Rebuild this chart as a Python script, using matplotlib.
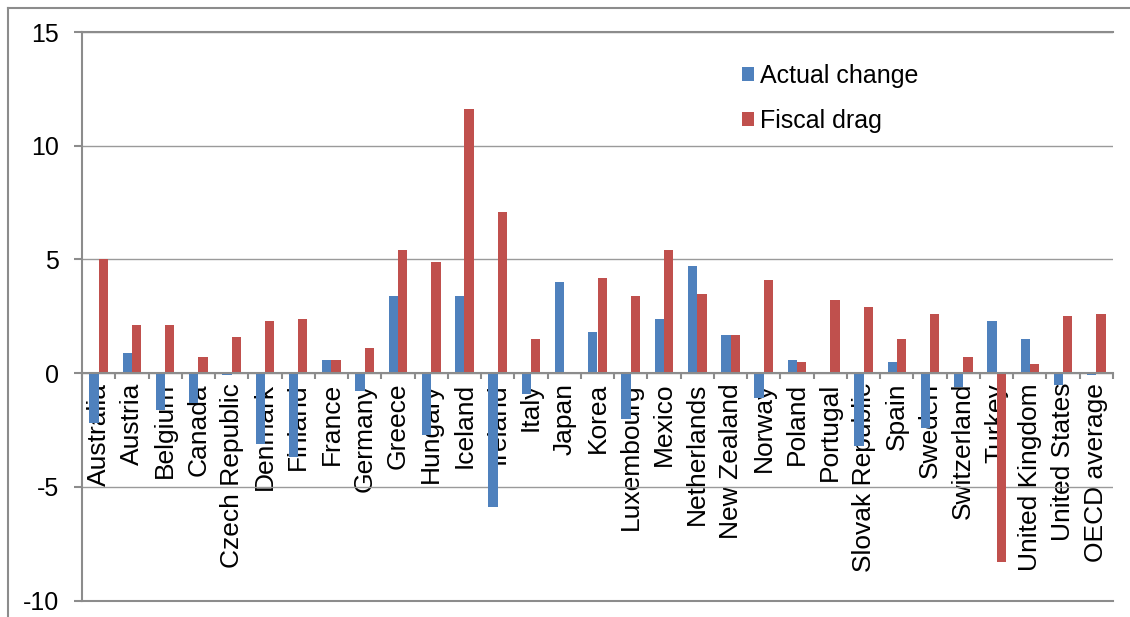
import numpy as np
import matplotlib.pyplot as plt
from matplotlib.patches import Patch
from matplotlib.lines import Line2D

countries = ["Australia", "Austria", "Belgium", "Canada", "Czech Republic", "Denmark",
             "Finland", "France", "Germany", "Greece", "Hungary", "Iceland", "Ireland",
             "Italy", "Japan", "Korea", "Luxembourg", "Mexico", "Netherlands",
             "New Zealand", "Norway", "Poland", "Portugal", "Slovak Republic", "Spain",
             "Sweden", "Switzerland", "Turkey", "United Kingdom", "United States",
             "OECD average"]

actual_change = [-2.2, 0.9, -1.6, -1.3, -0.1, -3.1, -3.7, 0.6, -0.8, 3.4, -2.7, 3.4, -5.9,
                 -0.9, 4.0, 1.8, -2.0, 2.4, 4.7, 1.7, -1.1, 0.6, 0.05, -3.2, 0.5, -2.4,
                 -0.6, 2.3, 1.5, -0.5, -0.1]
fiscal_drag = [5.0, 2.1, 2.1, 0.7, 1.6, 2.3, 2.4, 0.6, 1.1, 5.4, 4.9, 11.6, 7.1, 1.5, 0.0,
               4.2, 3.4, 5.4, 3.5, 1.7, 4.1, 0.5, 3.2, 2.9, 1.5, 2.6, 0.7, -8.3, 0.4,
               2.5, 2.6]

blue = "#4F81BD"
red = "#C0504D"
grey = "#8C8C8C"

plt.rcParams['font.family'] = ['Liberation Sans', 'DejaVu Sans']
plt.rcParams['axes.unicode_minus'] = False

W, H = 1130, 617
fig = plt.figure(figsize=(W / 100, H / 100), dpi=100)
ax = fig.add_axes([82 / W, 1 - 600.7 / H, (1113 - 82) / W, (600.7 - 32) / H])

x = np.arange(len(countries))
w = 0.28
ax.bar(x - w / 2, actual_change, w, color=blue, zorder=3)
ax.bar(x + w / 2, fiscal_drag, w, color=red, zorder=3)

ax.set_xlim(-0.5, len(countries) - 0.5)
ax.set_ylim(-10, 15)
ax.set_yticks(np.arange(-10, 16, 5))
ax.yaxis.grid(True, color="#9A9A9A", linewidth=1.0, zorder=0)
ax.set_axisbelow(True)
# bottom gridline sits on the axes edge, draw it unclipped
ax.axhline(-10, color=grey, linewidth=1.5, clip_on=False, zorder=4)

ax.spines['bottom'].set_position(('data', 0))
ax.spines['right'].set_visible(False)
for s in ['left', 'bottom', 'top']:
    ax.spines[s].set_color(grey)
    ax.spines[s].set_linewidth(1.5)
    ax.spines[s].set_zorder(4)

ax.set_xticks(x)
ax.set_xticklabels(countries, rotation=90, fontsize=19)
ax.set_xticks(np.arange(-0.5, len(countries)), minor=True)
ax.tick_params(axis='x', which='major', length=0, pad=7)
ax.tick_params(axis='x', which='minor', length=4.5, width=1.5, color=grey, direction='out')
ax.tick_params(axis='y', length=5.8, width=1.5, color=grey, pad=11, labelsize=18)

handles = [Patch(facecolor=blue, edgecolor='none'), Patch(facecolor=red, edgecolor='none')]
fig.legend(handles, ["Actual change", "Fiscal drag"], loc='upper left',
           bbox_to_anchor=(742 / W, 1 - 64 / H), frameon=False, fontsize=18,
           borderpad=0, borderaxespad=0, handlelength=0.48, handleheight=0.48,
           handletextpad=0.25, labelspacing=0.85)

# outer chart frame
fig.add_artist(Line2D([8 / W, 8 / W], [0, 1 - 8 / H], color=grey, linewidth=1.5))
fig.add_artist(Line2D([8 / W, 1], [1 - 8 / H, 1 - 8 / H], color=grey, linewidth=1.5))

fig.savefig("out.png", dpi=100)
